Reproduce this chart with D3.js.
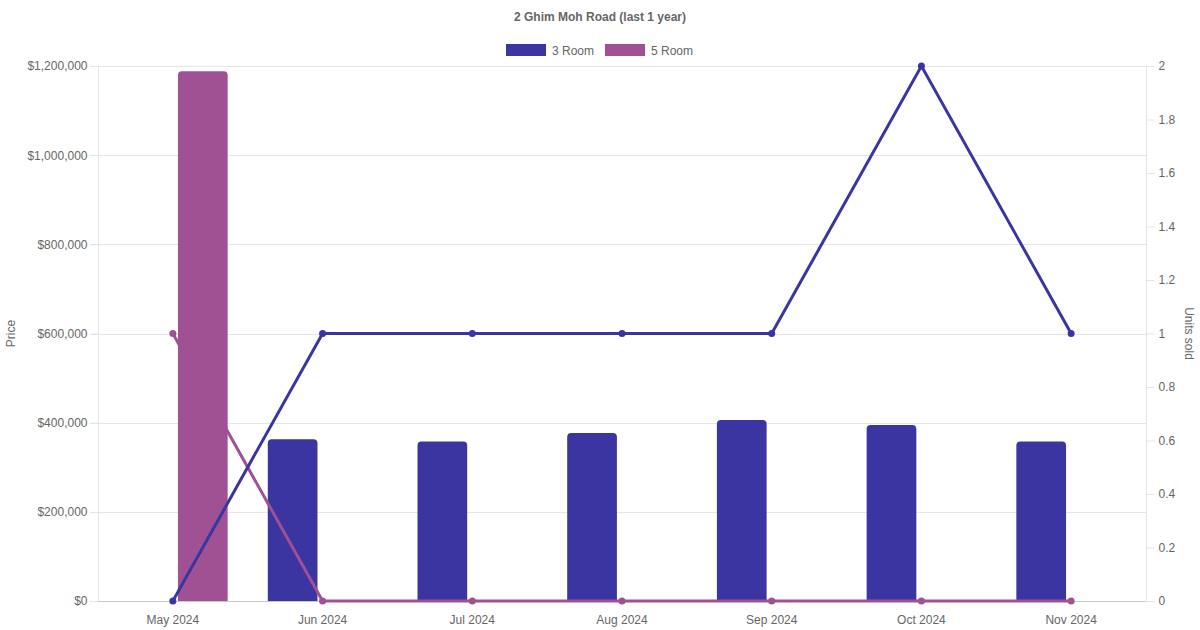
<!DOCTYPE html>
<html>
<head>
<meta charset="utf-8">
<script src="https://cdn.jsdelivr.net/npm/d3@7"></script>
<style>
  body { margin: 0; background: #fff; }
  text { font-family: "Liberation Sans", Arial, Helvetica, sans-serif; fill: #666; }
</style>
</head>
<body>
<script>
// chart data
const months = ['May 2024', 'Jun 2024', 'Jul 2024', 'Aug 2024', 'Sep 2024', 'Oct 2024', 'Nov 2024'];
const seriesNames = ['3 Room', '5 Room'];
const price3Room = [null, 363000, 358000, 377000, 406000, 395000, 358000];
const price5Room = [1188000, null, null, null, null, null, null];
const units3Room = [0, 1, 1, 1, 1, 2, 1];
const units5Room = [1, 0, 0, 0, 0, 0, 0];
const priceTicks = [0, 200000, 400000, 600000, 800000, 1000000, 1200000];
const unitTicks = [0, 0.2, 0.4, 0.6, 0.8, 1, 1.2, 1.4, 1.6, 1.8, 2];

const colors = { '3 Room': '#3a35a0', '5 Room': '#9f5193' };

const width = 1200, height = 630;
const plot = { left: 98, right: 1146, top: 66, bottom: 601 };

const svg = d3.select('body').append('svg')
    .attr('width', width)
    .attr('height', height);

// scales
const x = d3.scaleBand().domain(months).range([plot.left, plot.right]).padding(0);
const groupWidth = x.bandwidth() * 0.8;
const xInner = d3.scaleBand().domain(seriesNames).range([0, groupWidth]).paddingInner(0.17).paddingOuter(0.085);
const yPrice = d3.scaleLinear().domain([0, 1200000]).range([plot.bottom, plot.top]);
const yUnits = d3.scaleLinear().domain([0, 2]).range([plot.bottom, plot.top]);

// horizontal grid from the price axis
svg.append('g')
    .selectAll('line')
    .data(priceTicks)
    .enter()
    .append('line')
    .attr('x1', plot.left - 8)
    .attr('x2', plot.right)
    .attr('y1', d => Math.round(yPrice(d)) + 0.5)
    .attr('y2', d => Math.round(yPrice(d)) + 0.5)
    .style('stroke', d => d === 0 ? '#c8c8c8' : '#e5e5e5');

// left axis
const leftAxis = svg.append('g')
    .attr('transform', `translate(${plot.left + 0.5},0)`)
    .call(d3.axisLeft(yPrice).tickValues(priceTicks).tickSize(8).tickPadding(3)
        .tickFormat(d => '$' + d3.format(',')(d)));
leftAxis.select('.domain').style('stroke', '#e5e5e5').attr('d', `M0,${plot.top}V${plot.bottom}`);
leftAxis.selectAll('.tick line').style('stroke', '#e5e5e5');
leftAxis.selectAll('text').style('font-size', '12px').style('fill', '#666');

// right axis
const rightAxis = svg.append('g')
    .attr('transform', `translate(${plot.right + 0.5},0)`)
    .call(d3.axisRight(yUnits).tickValues(unitTicks).tickSize(8).tickPadding(4)
        .tickFormat(d => d3.format('~g')(d)));
rightAxis.select('.domain').style('stroke', '#e5e5e5').attr('d', `M0,${plot.top}V${plot.bottom}`);
rightAxis.selectAll('.tick line').style('stroke', '#e5e5e5');
rightAxis.selectAll('text').style('font-size', '12px').style('fill', '#666');

// bottom labels
svg.append('g')
    .selectAll('text')
    .data(months)
    .enter()
    .append('text')
    .attr('x', d => x(d) + x.bandwidth() / 2)
    .attr('y', 624)
    .attr('text-anchor', 'middle')
    .style('font-size', '12px')
    .text(d => d);

// bars
const barData = [];
months.forEach((m, i) => {
    if (price3Room[i] != null) barData.push({ month: m, key: '3 Room', value: price3Room[i] });
    if (price5Room[i] != null) barData.push({ month: m, key: '5 Room', value: price5Room[i] });
});

function topRounded(x0, y0, w, h, r) {
    r = Math.min(r, w / 2, h);
    return `M${x0},${y0 + h}V${y0 + r}Q${x0},${y0} ${x0 + r},${y0}H${x0 + w - r}Q${x0 + w},${y0} ${x0 + w},${y0 + r}V${y0 + h}Z`;
}

svg.append('g')
    .selectAll('path')
    .data(barData)
    .enter()
    .append('path')
    .attr('d', d => {
        const bx = x(d.month) + (x.bandwidth() - groupWidth) / 2 + xInner(d.key);
        const by = yPrice(d.value);
        return topRounded(bx, by, xInner.bandwidth(), plot.bottom - by, 4);
    })
    .style('fill', d => colors[d.key]);

// lines for units sold (first series drawn on top)
const line = d3.line()
    .x((d, i) => x(months[i]) + x.bandwidth() / 2)
    .y(d => yUnits(d));

const lineSeries = [
    { key: '5 Room', values: units5Room },
    { key: '3 Room', values: units3Room }
];

lineSeries.forEach(s => {
    const g = svg.append('g');
    g.append('path')
        .datum(s.values)
        .attr('d', line)
        .style('fill', 'none')
        .style('stroke', colors[s.key])
        .style('stroke-width', 3);
    g.selectAll('circle')
        .data(s.values)
        .enter()
        .append('circle')
        .attr('cx', (d, i) => x(months[i]) + x.bandwidth() / 2)
        .attr('cy', d => yUnits(d))
        .attr('r', 3.5)
        .style('fill', colors[s.key]);
});

// title
svg.append('text')
    .attr('x', width / 2)
    .attr('y', 21)
    .attr('text-anchor', 'middle')
    .style('font-size', '12px')
    .style('font-weight', 'bold')
    .text('2 Ghim Moh Road (last 1 year)');

// legend
const legendItems = [
    { key: '3 Room', x: 506 },
    { key: '5 Room', x: 605 }
];
const legend = svg.append('g');
legendItems.forEach(item => {
    legend.append('rect')
        .attr('x', item.x)
        .attr('y', 44)
        .attr('width', 40)
        .attr('height', 12)
        .style('fill', colors[item.key]);
    legend.append('text')
        .attr('x', item.x + 46)
        .attr('y', 54.5)
        .style('font-size', '12px')
        .text(item.key);
});

// axis titles
svg.append('text')
    .attr('transform', `translate(15,${(plot.top + plot.bottom) / 2}) rotate(-90)`)
    .attr('text-anchor', 'middle')
    .style('font-size', '12px')
    .text('Price');

svg.append('text')
    .attr('transform', `translate(1185,${(plot.top + plot.bottom) / 2}) rotate(90)`)
    .attr('text-anchor', 'middle')
    .style('font-size', '12px')
    .text('Units sold');
</script>
</body>
</html>
